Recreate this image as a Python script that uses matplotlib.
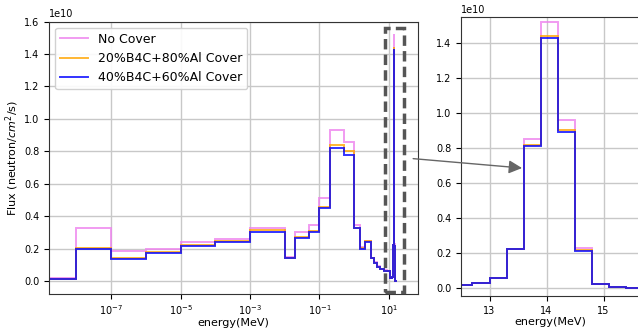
import matplotlib
matplotlib.use("Agg")
import numpy as np
from matplotlib import pyplot as plt
from matplotlib.patches import Rectangle, ConnectionPatch

# energy bin edges (MeV)
edges = [1e-9, 1e-8, 1e-7, 1e-6, 1e-5, 1e-4, 1e-3, 1e-2, 0.02, 0.05, 0.1, 0.2, 0.5,
         1.0, 1.5, 2.0, 3.0, 3.7, 4.5, 5.5, 7.0, 9.0, 11.0, 12.4, 12.7, 13.0, 13.3,
         13.6, 13.9, 14.2, 14.5, 14.8, 15.1, 15.4, 16.0, 17.0]

# flux per bin, units of 1e10 neutron/cm^2/s
no_cover = [0.018, 0.33, 0.185, 0.20, 0.24, 0.26, 0.325, 0.15, 0.30, 0.345, 0.515, 0.93, 0.86,
            0.345, 0.21, 0.25, 0.145, 0.118, 0.092, 0.078, 0.066, 0.062, 0.02, 0.017, 0.027,
            0.059, 0.225, 0.85, 1.52, 0.958, 0.228, 0.025, 0.005, 0.001, 0.0005]
cover_20 = [0.015, 0.205, 0.14, 0.18, 0.225, 0.25, 0.315, 0.145, 0.275, 0.31, 0.455, 0.84, 0.80,
            0.33, 0.205, 0.245, 0.142, 0.115, 0.09, 0.076, 0.065, 0.06, 0.02, 0.017, 0.027,
            0.057, 0.222, 0.815, 1.44, 0.904, 0.216, 0.024, 0.004, 0.001, 0.0005]
cover_40 = [0.013, 0.20, 0.138, 0.172, 0.215, 0.243, 0.305, 0.14, 0.268, 0.303, 0.45, 0.82, 0.78,
            0.325, 0.20, 0.24, 0.14, 0.113, 0.088, 0.075, 0.064, 0.06, 0.019, 0.016, 0.026,
            0.055, 0.22, 0.812, 1.43, 0.895, 0.214, 0.024, 0.004, 0.001, 0.0005]

labels = ["No Cover", "20%B4C+80%Al Cover", "40%B4C+60%Al Cover"]
colors = ["violet", "orange", "blue"]

edges = np.array(edges)
series = [np.array(s) * 1e10 for s in (no_cover, cover_20, cover_40)]

W, H = 638, 331
fig = plt.figure(figsize=(W / 100, H / 100), dpi=100)
ax1 = fig.add_axes([49 / W, (H - 293.5) / H, 369 / W, 272 / H])
ax2 = fig.add_axes([461 / W, (H - 296) / H, 178 / W, 279 / H])

for ax in (ax1, ax2):
    for s, lab, c in zip(series, labels, colors):
        ax.stairs(s, edges, color=c, lw=1.4, alpha=0.8, label=lab)
    ax.grid(color="#c8c8c8", lw=1.0)
    ax.set_axisbelow(True)
    ax.tick_params(labelsize=7)
    ax.yaxis.get_offset_text().set_fontsize(7)
    ax.set_xlabel("energy(MeV)", fontsize=8, labelpad=1)
    for sp in ax.spines.values():
        sp.set_color("#333333")

ax1.set_xscale("log")
ax1.set_xlim(1.62e-9, 69)
ax1.set_ylim(-0.076e10, 1.6e10)
ax1.set_yticks(np.arange(0, 1.61, 0.2) * 1e10)
ax1.set_xticks([1e-7, 1e-5, 1e-3, 1e-1, 1e1])
ax1.xaxis.set_minor_locator(matplotlib.ticker.NullLocator())
ax1.set_ylabel("Flux (neutron/$cm^2$/s)", fontsize=8, labelpad=2)
ax1.legend(loc="upper left", fontsize=9, handlelength=2.2, framealpha=0.9)

ax2.set_xlim(12.5, 15.62)
ax2.set_ylim(-0.046e10, 1.55e10)
ax2.set_xticks([13, 14, 15])
ax2.set_yticks(np.arange(0, 1.41, 0.2) * 1e10)

# dashed box around the 14 MeV peak
box = Rectangle((7.8, -0.066e10), 28 - 7.8, 1.627e10, fill=False, ls=(0, (3, 1.5)),
                lw=2.5, edgecolor="#555555", clip_on=False, zorder=5)
ax1.add_patch(box)

arrow = ConnectionPatch(xyA=(50, 0.755e10), coordsA=ax1.transData,
                        xyB=(13.57, 0.686e10), coordsB=ax2.transData,
                        arrowstyle="-|>", mutation_scale=20, color="#666666", lw=1.0)
fig.add_artist(arrow)

fig.savefig("out.png", dpi=100)
